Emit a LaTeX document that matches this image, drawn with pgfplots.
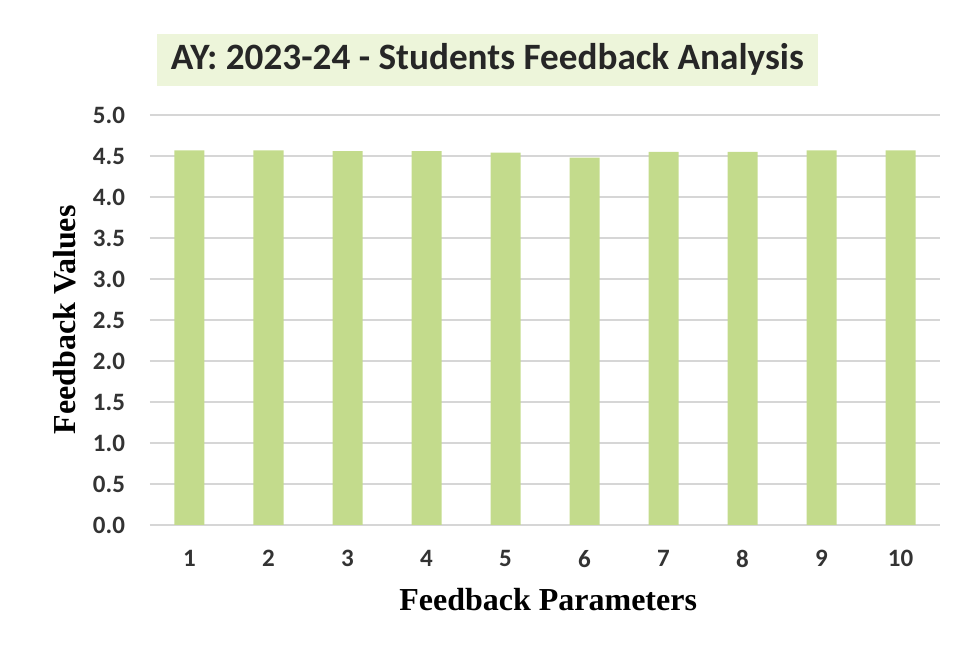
\documentclass[border=0pt]{standalone}
\usepackage{fontspec}
\setmainfont{Carlito}
\newfontfamily\serifb{Liberation Serif}
\usepackage{pgfplots}
\pgfplotsset{compat=1.18}
\definecolor{barg}{HTML}{C3DB8C}
\definecolor{titlebg}{HTML}{EDF5DA}
\definecolor{gridc}{HTML}{D6D6D6}
\begin{document}
\begin{tikzpicture}
\path[use as bounding box] (0,0) rectangle (480pt,324.5pt);
\begin{axis}[
  at={(75pt,62pt)}, anchor=south west,
  scale only axis, width=395pt, height=205pt,
  xmin=0.5, xmax=10.5, ymin=0, ymax=5,
  ytick={0,0.5,...,5}, xtick={1,...,10},
  axis line style={draw=none},
  major tick length=0pt,
  ymajorgrids, grid style={gridc, line width=0.6pt},
  /pgf/number format/assume math mode=true,
  yticklabel style={/pgf/number format/fixed, /pgf/number format/fixed zerofill, /pgf/number format/precision=1, xshift=-9pt},
  ticklabel style={font=\fontsize{12.5}{14}\selectfont\bfseries, text=black!80},
  xticklabel style={yshift=-9pt},
  title={AY: 2023-24 - Students Feedback Analysis},
  title style={at={(0.427,1.041)}, anchor=south, font=\fontsize{18.6}{21}\selectfont\bfseries,
    fill=titlebg, inner xsep=7pt, inner ysep=5pt, text=black!85},
  ylabel={Feedback Values},
  ylabel style={at={(-0.108,0.5)}, anchor=center, font=\serifb\fontsize{16}{18}\selectfont\bfseries},
  xlabel={Feedback Parameters},
  xlabel style={at={(0.504,-0.183)}, anchor=center, font=\serifb\fontsize{16}{18}\selectfont\bfseries},
]
\addplot[ybar, bar width=15pt, fill=barg, draw=none] coordinates {
(1,4.57) (2,4.57) (3,4.56) (4,4.56) (5,4.54) (6,4.48) (7,4.55) (8,4.55) (9,4.57) (10,4.57)};
\end{axis}
\end{tikzpicture}
\end{document}
